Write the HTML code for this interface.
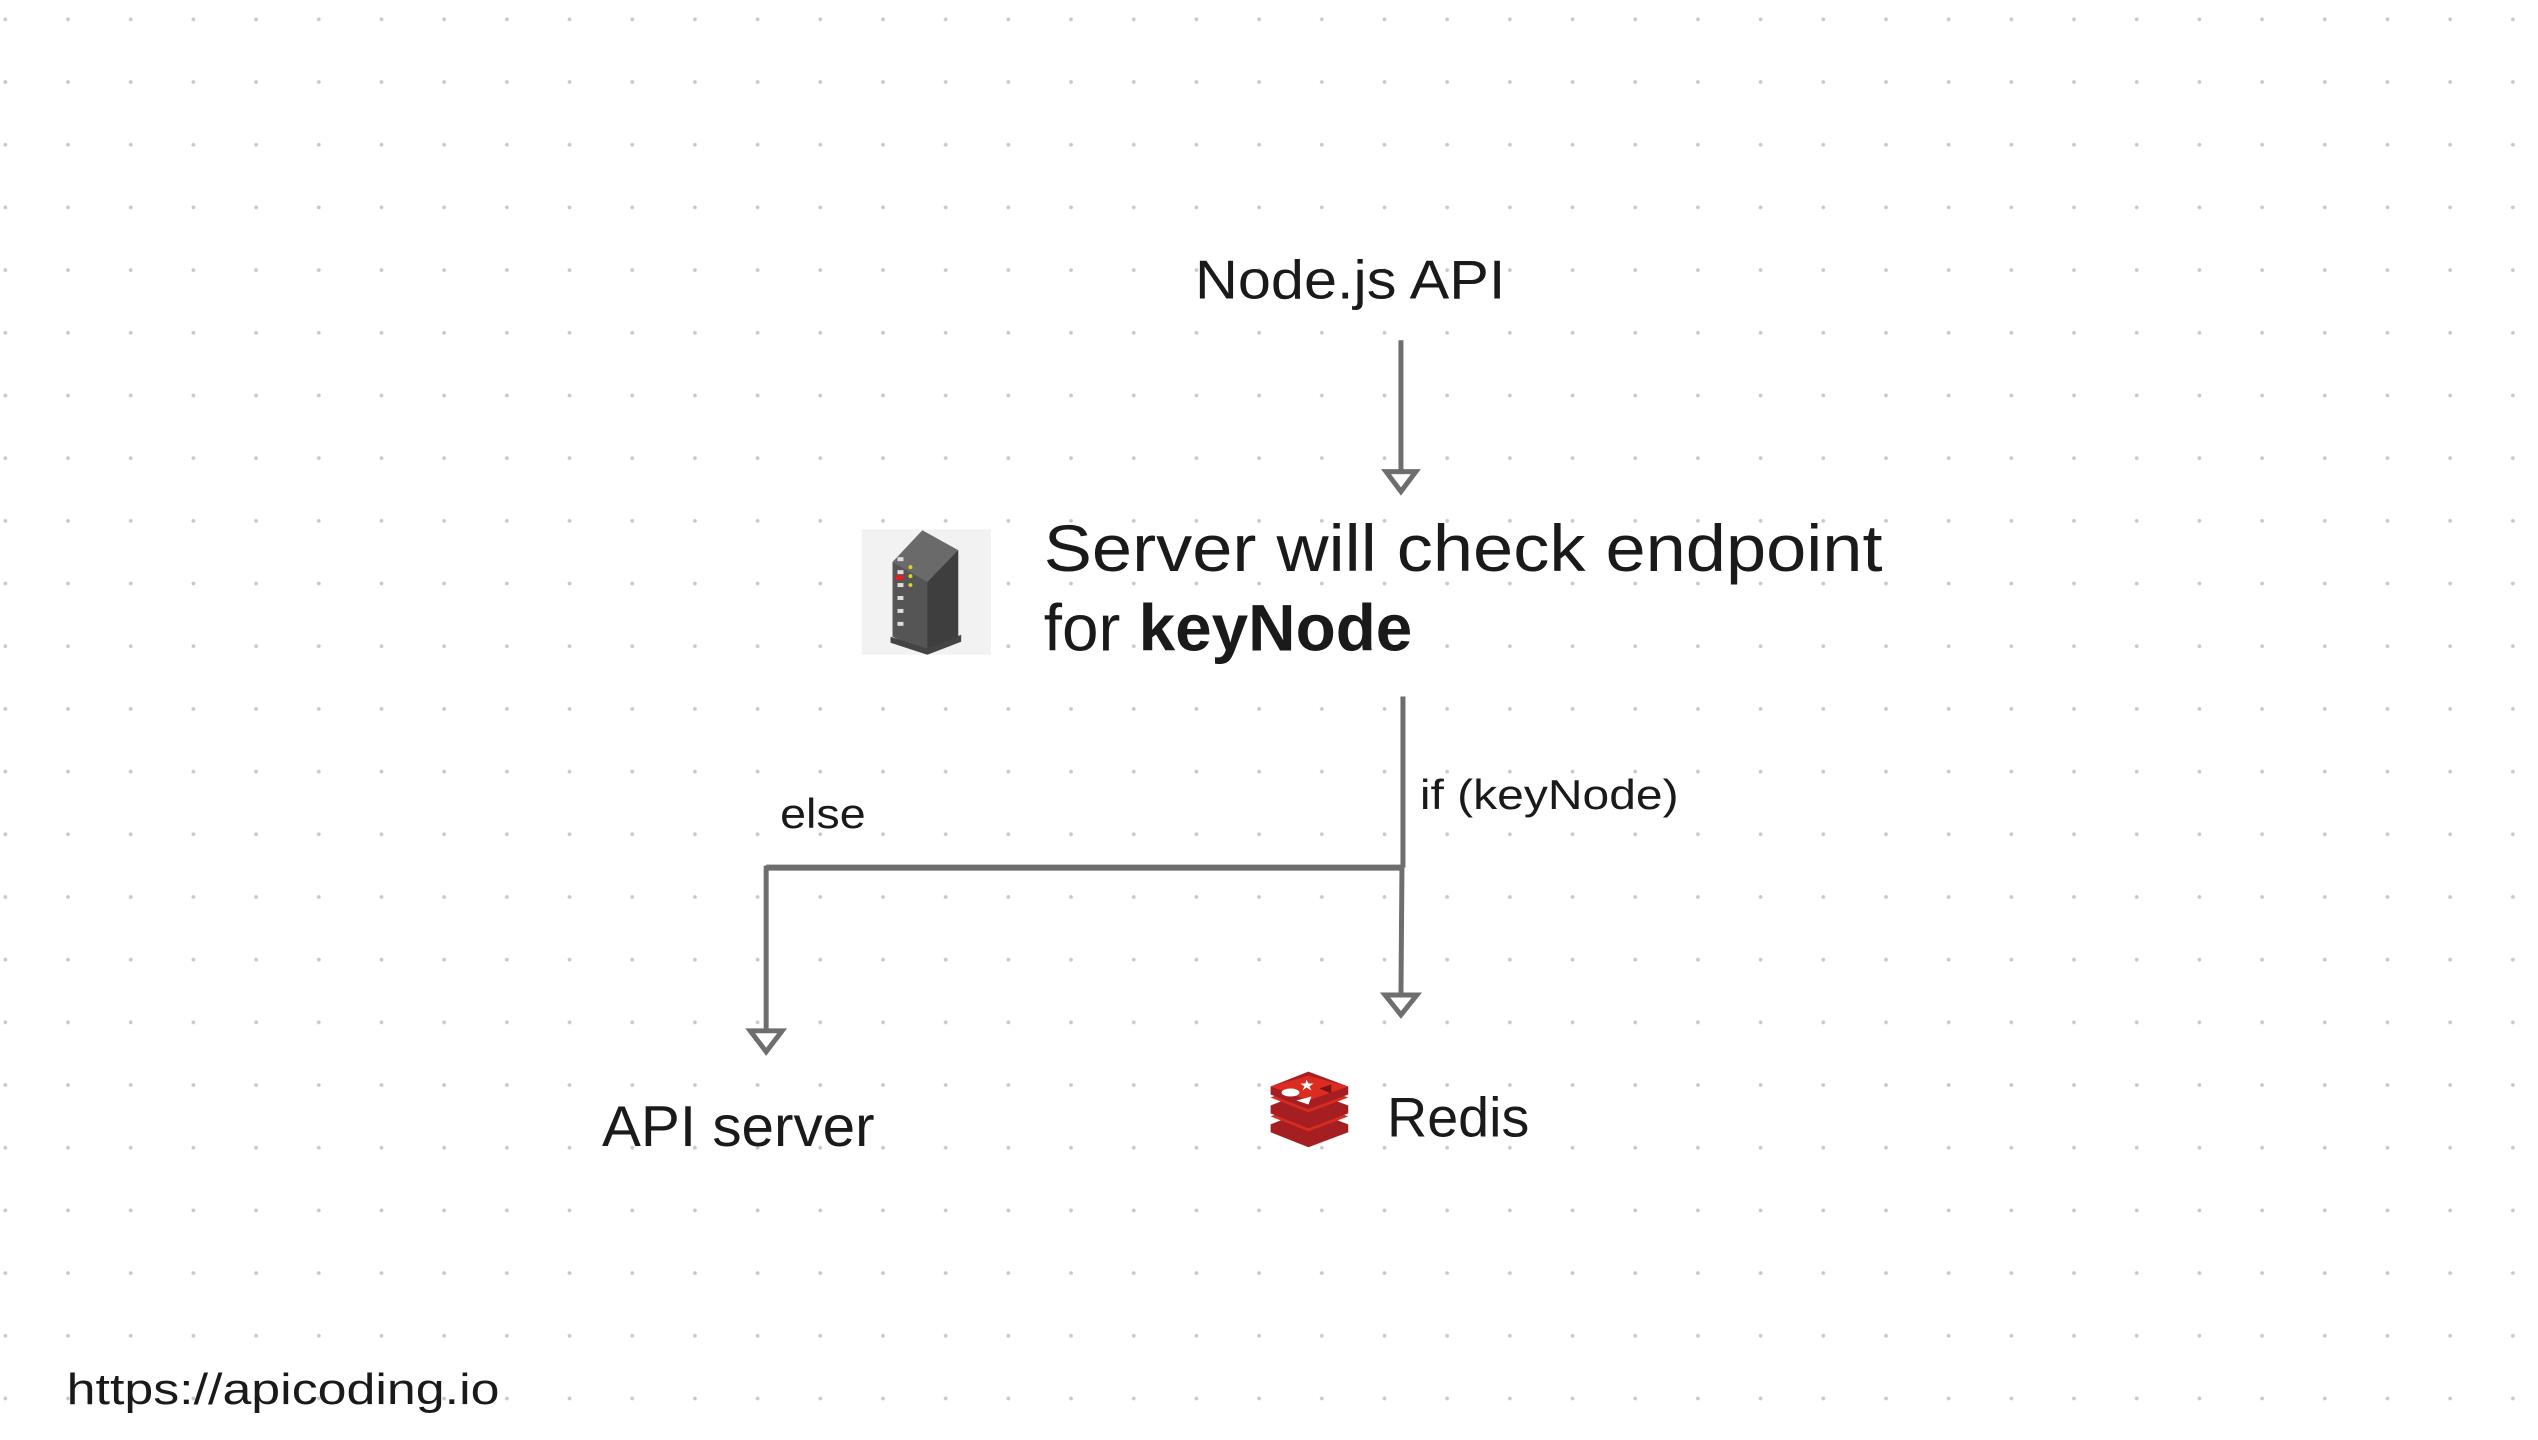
<!DOCTYPE html>
<html><head><meta charset="utf-8"><style>
html,body{margin:0;padding:0;background:#fff;}
body{width:2538px;height:1440px;overflow:hidden;
background-image:radial-gradient(circle,#c8c8c8 1.6px,transparent 2.2px);
background-size:62.7px 62.7px;background-position:-26px -12px;}
svg{position:absolute;left:0;top:0;}
text{font-family:"Liberation Sans",sans-serif;fill:#1a1a1a;}
</style></head><body>
<svg width="2538" height="1440" viewBox="0 0 2538 1440">
<g transform="scale(0.995)">
<g stroke="#6e6e6e" stroke-width="5" fill="none">
<line x1="1408" y1="342" x2="1408" y2="474"/>
<polygon points="1393,474 1423,474 1408,494" fill="#fff"/>
<line x1="1410" y1="700" x2="1410" y2="872"/>
<line x1="1409" y1="872" x2="1408" y2="1000"/>
<polygon points="1392,1000 1424,1000 1408,1020" fill="#fff"/>
<line x1="770" y1="872" x2="1410" y2="872" stroke-width="6"/>
<line x1="770" y1="870" x2="770" y2="1036"/>
<polygon points="754,1036 786,1036 770,1057" fill="#fff"/>
</g>
<text x="1201" y="300" font-size="55" textLength="312" lengthAdjust="spacingAndGlyphs">Node.js API</text>
<rect x="866" y="532" width="130" height="126" fill="#f2f2f2"/>
<polygon points="897,565 927,533 963,553 963,640 930,655 897,640" fill="#555"/>
<polygon points="897,565 927,533 963,553 932,585" fill="#6a6a6a"/>
<polygon points="932,585 963,553 963,640 932,652" fill="#3e3e3e"/>
<polygon points="895,640 932,652 966,638 966,645 932,658 895,646" fill="#444"/>
<g fill="#ddd"><rect x="902" y="560" width="6" height="4"/><rect x="902" y="573" width="6" height="4"/><rect x="902" y="586" width="6" height="4"/><rect x="902" y="599" width="6" height="4"/><rect x="902" y="612" width="6" height="4"/><rect x="902" y="625" width="6" height="4"/></g>
<rect x="900" y="578" width="8" height="5" fill="#e02020"/>
<g fill="#e0d020"><circle cx="915" cy="570" r="2"/><circle cx="915" cy="579" r="2"/><circle cx="915" cy="588" r="2"/></g>
<text x="1049" y="574" font-size="66" textLength="843" lengthAdjust="spacingAndGlyphs">Server will check endpoint</text>
<text x="1049" y="654" font-size="66">for <tspan font-weight="bold">keyNode</tspan></text>
<text x="1427" y="813" font-size="42" fill="#333" textLength="260" lengthAdjust="spacingAndGlyphs">if (keyNode)</text>
<text x="784" y="832" font-size="42" textLength="86" lengthAdjust="spacingAndGlyphs">else</text>
<text x="605" y="1152" font-size="58" textLength="274" lengthAdjust="spacingAndGlyphs">API server</text>
<g>
<polygon points="1277,1130 1315,1115 1355,1130 1355,1138 1315,1153 1277,1138" fill="#a41e22"/>
<polygon points="1277,1122 1315,1107 1355,1122 1315,1137" fill="#d82c20"/>
<polygon points="1277,1111 1315,1096 1355,1111 1355,1119 1315,1134 1277,1119" fill="#a41e22"/>
<polygon points="1277,1103 1315,1088 1355,1103 1315,1118" fill="#d82c20"/>
<polygon points="1277,1092 1315,1077 1355,1092 1355,1100 1315,1115 1277,1100" fill="#a41e22"/>
<polygon points="1277,1092 1315,1081 1355,1092 1315,1106" fill="#dc2c22"/>
<ellipse cx="1297" cy="1098" rx="9" ry="4" fill="#fff"/>
<polygon points="1313,1085 1315,1089 1320,1089 1316,1092 1318,1096 1313,1093 1309,1096 1311,1092 1307,1089 1312,1089" fill="#fff"/>
<polygon points="1303,1106 1318,1102 1315,1110" fill="#fff"/>
<polygon points="1326,1094 1338,1090 1338,1099" fill="#7a1418"/>
</g>
<text x="1394" y="1142" font-size="56" textLength="143" lengthAdjust="spacingAndGlyphs">Redis</text>
<text x="67" y="1411" font-size="44" textLength="435" lengthAdjust="spacingAndGlyphs">https://apicoding.io</text>
</g>
</svg>
</body></html>
